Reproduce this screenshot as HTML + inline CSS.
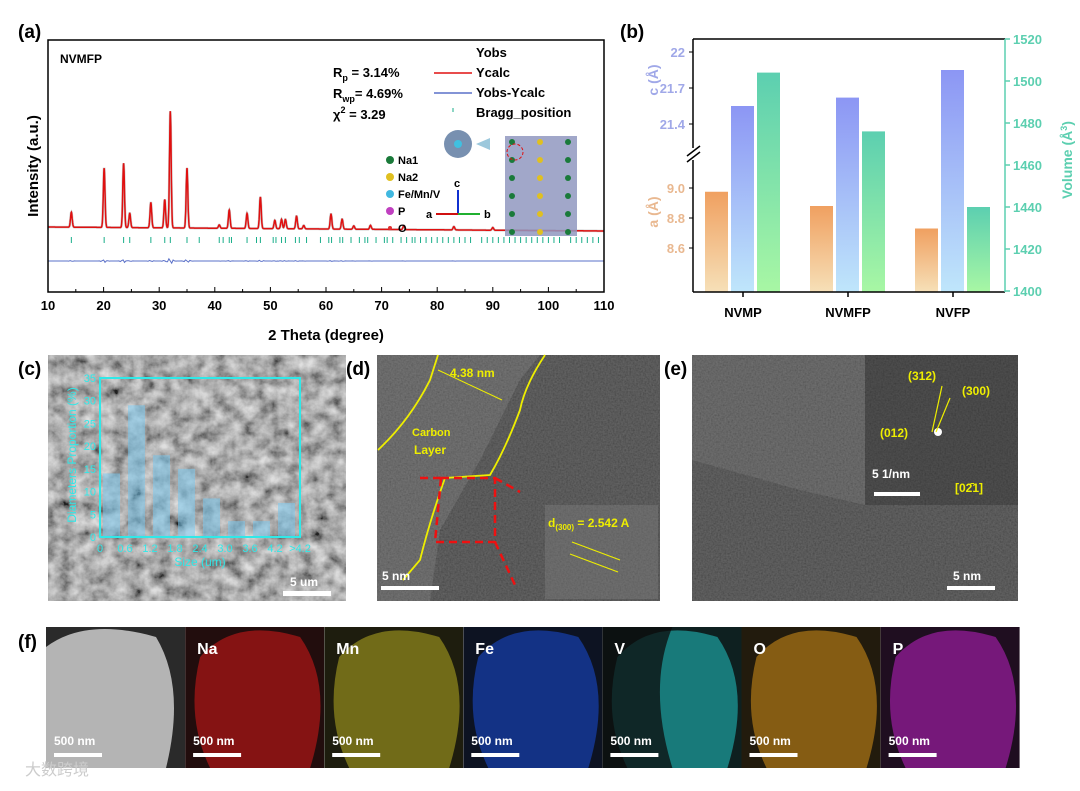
<!DOCTYPE html>
<html><head><meta charset="utf-8"><style>
body{margin:0;background:#fff;width:1080px;height:786px;overflow:hidden;font-family:"Liberation Sans",Arial,sans-serif}
svg text{font-family:"Liberation Sans",Arial,sans-serif}
</style></head><body>
<svg id="fig" width="1080" height="786" viewBox="0 0 1080 786">
<defs>
<filter id="noiseL" x="0" y="0" width="100%" height="100%"><feTurbulence type="fractalNoise" baseFrequency="0.07" numOctaves="4" seed="3"/><feColorMatrix type="saturate" values="0"/><feComponentTransfer><feFuncR type="linear" slope="1.8" intercept="-0.4"/><feFuncG type="linear" slope="1.8" intercept="-0.4"/><feFuncB type="linear" slope="1.8" intercept="-0.4"/><feFuncA type="linear" slope="0" intercept="1"/></feComponentTransfer></filter>
<filter id="noiseF" x="0" y="0" width="100%" height="100%"><feTurbulence type="fractalNoise" baseFrequency="0.6" numOctaves="2" seed="5"/><feColorMatrix type="saturate" values="0"/><feComponentTransfer><feFuncA type="linear" slope="0" intercept="1"/></feComponentTransfer></filter>
<linearGradient id="gA" x1="0" y1="0" x2="0" y2="1"><stop offset="0" stop-color="#f0a060"/><stop offset="1" stop-color="#f6e0b8"/></linearGradient>
<linearGradient id="gC" x1="0" y1="0" x2="0" y2="1"><stop offset="0" stop-color="#8c96f4"/><stop offset="1" stop-color="#bfe6fb"/></linearGradient>
<linearGradient id="gV" x1="0" y1="0" x2="0" y2="1"><stop offset="0" stop-color="#5ccfb0"/><stop offset="1" stop-color="#a8f7a4"/></linearGradient>
</defs>

<text x="18" y="38" font-size="19" font-weight="bold">(a)</text>
<g id="pa"></g>
<text x="620" y="38" font-size="19" font-weight="bold">(b)</text>
<g id="pb"></g>

<text x="18" y="375" font-size="19" font-weight="bold">(c)</text>
<g>
<rect x="48" y="355" width="298" height="246" fill="#888" filter="url(#noiseL)"/>
<rect x="48" y="355" width="298" height="246" fill="#808080" opacity="0.25"/>
</g>
<g id="pc"></g>
<rect x="283" y="591" width="48" height="5" fill="#fff"/>
<text x="290" y="586" font-size="12" fill="#fff" font-weight="bold">5 um</text>

<text x="346" y="375" font-size="19" font-weight="bold">(d)</text>
<g>
<rect x="377" y="355" width="283" height="246" fill="#666" filter="url(#noiseF)"/>
<rect x="377" y="355" width="283" height="246" fill="#333" opacity="0.72"/>
<path d="M377,355 L540,355 L520,380 L480,460 L440,530 L430,601 L377,601Z" fill="#fff" opacity="0.1"/>
<path d="M378,450 Q410,420 430,380 L438,355" fill="none" stroke="#ee0" stroke-width="1.8"/>
<path d="M545,355 Q525,385 520,410 Q505,450 490,475 L445,478 Q430,520 420,560 L403,580" fill="none" stroke="#ee0" stroke-width="1.8"/>
<line x1="438" y1="370" x2="502" y2="400" stroke="#ee0" stroke-width="1"/>
<text x="450" y="377" font-size="12" font-weight="bold" fill="#ee0">4.38 nm</text>
<text x="412" y="436" font-size="11" font-weight="bold" fill="#ee0">Carbon</text>
<text x="414" y="454" font-size="12" font-weight="bold" fill="#ee0">Layer</text>
<path d="M441,478 L420,478 M441,478 L495,478 L495,542 L435,542 L441,478 M495,478 L520,492 M495,542 L515,585" fill="none" stroke="#e11" stroke-width="2.5" stroke-dasharray="8,5"/>
<rect x="545" y="505" width="113" height="94" fill="#888" opacity="0.35"/>
<text x="548" y="527" font-size="12" font-weight="bold" fill="#ee0">d<tspan font-size="8" dy="3">(300)</tspan><tspan dy="-3"> = 2.542 A</tspan></text>
<line x1="572" y1="542" x2="620" y2="560" stroke="#ee0" stroke-width="1.2"/><line x1="570" y1="554" x2="618" y2="572" stroke="#ee0" stroke-width="1.2"/>
<rect x="381" y="586" width="58" height="4" fill="#fff"/>
<text x="382" y="580" font-size="12" font-weight="bold" fill="#fff">5 nm</text>
</g>

<text x="664" y="375" font-size="19" font-weight="bold">(e)</text>
<g>
<rect x="692" y="355" width="326" height="246" fill="#666" filter="url(#noiseF)"/>
<rect x="692" y="355" width="326" height="246" fill="#333" opacity="0.72"/>
<path d="M692,355 L865,355 L865,505 L800,490 L692,460Z" fill="#fff" opacity="0.08"/>
<rect x="865" y="355" width="153" height="150" fill="#222" opacity="0.3"/>
<circle cx="938" cy="432" r="4" fill="#fff"/>
<text x="908" y="380" font-size="12" font-weight="bold" fill="#ee0">(312)</text>
<text x="962" y="395" font-size="12" font-weight="bold" fill="#ee0">(300)</text>
<text x="880" y="437" font-size="12" font-weight="bold" fill="#ee0">(012)</text>
<text x="955" y="492" font-size="12" font-weight="bold" fill="#ee0">[02̄1]</text>
<line x1="932" y1="432" x2="942" y2="386" stroke="#ee0" stroke-width="1.2"/><line x1="936" y1="432" x2="950" y2="398" stroke="#ee0" stroke-width="1.2"/>
<text x="872" y="478" font-size="12" font-weight="bold" fill="#fff">5 1/nm</text>
<rect x="874" y="492" width="46" height="4" fill="#fff"/>
<rect x="947" y="586" width="48" height="4" fill="#fff"/>
<text x="953" y="580" font-size="12" font-weight="bold" fill="#fff">5 nm</text>
</g>

<text x="18" y="648" font-size="19" font-weight="bold">(f)</text>
<g id="pf"></g>
<text x="25" y="775" font-size="16" fill="#ccc">大数跨境</text>
</svg>

<script>
const NS='http://www.w3.org/2000/svg';
function mk(p,t,a){const e=document.createElementNS(NS,t);for(const k in a)e.setAttribute(k,a[k]);p.appendChild(e);return e;}

// ---------- Panel a: XRD ----------
const peakPos=[14.2,20.1,23.6,24.7,28.5,31.0,32.0,35.0,40.8,42.6,45.8,48.2,50.8,52.0,52.7,54.7,56.0,60.9,62.9,65.0,68.0,74.0,83.0,90.0];
const peakHeight=[45,177,193,43,75,85,350,180,10,55,45,95,25,28,28,38,10,45,30,10,12,12,10,8];
const braggPos=[14.2,20.1,23.6,24.7,28.5,31,32,35,37.2,40.8,41.5,42.6,43,45.8,47.5,48.2,50.5,51,52,52.7,54.5,55.2,56.5,59,60.5,61,62.5,63,64.5,66,67,67.5,69,70.5,71,72,73.5,74.5,75.5,76,77,78,79,80,81,82,83,84,85,86,88,89,90,91,92,93,94,95,96,97,98,99,100,101,102,104,105,106,107,108,109];
const xTicks=[10,20,30,40,50,60,70,80,90,100,110];
(function(){
const g=document.getElementById('pa');
const L=48,R=604,T=40,B=292;
const X=v=>L+(v-10)/100*(R-L);
const base=v=>227+(v-10)/100*4;
const Y=h=>h/3;
let d='';
for(let t=10;t<=110;t+=0.04){let y=base(t);for(let i=0;i<peakPos.length;i++){const w=0.15;y-=Y(peakHeight[i])*Math.exp(-((t-peakPos[i])**2)/(2*w*w));}d+=(d?'L':'M')+X(t).toFixed(1)+','+y.toFixed(1);}
const obs=mk(g,'path',{d:d,fill:'none',stroke:'#ccc','stroke-width':2.5});


const calc=mk(g,'path',{d:d,fill:'none',stroke:'#e01010','stroke-width':1.5});


braggPos.forEach(p=>{const b=mk(g,'line',{x1:X(p),x2:X(p),y1:237,y2:243,stroke:'#1aae8a','stroke-width':1});

});
let dd='';for(let t=10;t<=110;t+=0.25){let y=261;for(let i=0;i<peakPos.length;i++){y+=(peakHeight[i]/120)*Math.sin((t-peakPos[i])*8)*Math.exp(-((t-peakPos[i])**2)/0.3);}dd+=(dd?'L':'M')+X(t).toFixed(1)+','+y.toFixed(1);}
const diff=mk(g,'path',{d:dd,fill:'none',stroke:'#5a70c8','stroke-width':1});


const fr=mk(g,'rect',{x:L,y:T,width:R-L,height:B-T,fill:'none',stroke:'#000','stroke-width':1.5});


xTicks.forEach(v=>{mk(g,'line',{x1:X(v),x2:X(v),y1:B,y2:B-5,stroke:'#000'});const t=mk(g,'text',{x:X(v),y:B+18,'font-size':13,'font-weight':'bold','text-anchor':'middle'});t.textContent=v;

});
for(let v=15;v<110;v+=10)mk(g,'line',{x1:X(v),x2:X(v),y1:B,y2:B-3,stroke:'#000'});
const xt=mk(g,'text',{x:326,y:340,'font-size':15,'font-weight':'bold','text-anchor':'middle'});xt.textContent='2 Theta (degree)';


const yt=mk(g,'text',{x:38,y:166,'font-size':15,'font-weight':'bold','text-anchor':'middle',transform:'rotate(-90 38 166)'});yt.textContent='Intensity (a.u.)';


const lab=(x,y,s,txt,c,n)=>{const t=mk(g,'text',{x:x,y:y,'font-size':s,'font-weight':'bold',fill:c||'#000'});t.innerHTML=txt;

};
lab(60,63,12,'NVMFP',0,'sample-label');
lab(333,77,13,'R<tspan font-size="9" dy="4">p</tspan><tspan dy="-4">  = 3.14%</tspan>',0,'rp-value');
lab(333,98,13,'R<tspan font-size="9" dy="4">wp</tspan><tspan dy="-4">= 4.69%</tspan>',0,'rwp-value');
lab(333,119,13,'χ<tspan font-size="9" dy="-6">2</tspan><tspan dy="6">   = 3.29</tspan>',0,'chi2-value');
lab(476,57,13,'Yobs',0,'legend-yobs');
lab(476,77,13,'Ycalc',0,'legend-ycalc');
lab(476,97,13,'Yobs-Ycalc',0,'legend-diff');
lab(476,117,13,'Bragg_position',0,'legend-bragg');
mk(g,'line',{x1:434,x2:472,y1:73,y2:73,stroke:'#e01010','stroke-width':1.5});
mk(g,'line',{x1:434,x2:472,y1:93,y2:93,stroke:'#5a70c8','stroke-width':1.5});
mk(g,'line',{x1:453,x2:453,y1:108,y2:112,stroke:'#1aae8a'});
const sl=[['#1a7a3a','Na1',164],['#e0c020','Na2',181],['#40b8e0','Fe/Mn/V',198],['#c040c0','P',215],['#e03030','O',232]];
sl.forEach(s=>{mk(g,'circle',{cx:390,cy:s[2]-4,r:s[1]=='O'?2:4,fill:s[0]});lab(398,s[2],11,s[1],0,'atom-legend');});
mk(g,'line',{x1:458,x2:458,y1:214,y2:190,stroke:'#1030d0','stroke-width':2});lab(454,187,11,'c',0,'axis-c');
mk(g,'line',{x1:458,x2:436,y1:214,y2:214,stroke:'#d01010','stroke-width':2});lab(426,218,11,'a',0,'axis-a');
mk(g,'line',{x1:458,x2:480,y1:214,y2:214,stroke:'#20b030','stroke-width':2});lab(484,218,11,'b',0,'axis-b');
mk(g,'circle',{cx:458,cy:144,r:14,fill:'#7890b0'});mk(g,'circle',{cx:458,cy:144,r:4,fill:'#40c0e0'});
mk(g,'path',{d:'M476,144 l14,-6 v12z',fill:'#9cc8dc'});
mk(g,'rect',{x:505,y:136,width:72,height:100,fill:'#9098c0',opacity:0.85});
for(let i=0;i<6;i++)for(let j=0;j<3;j++)mk(g,'circle',{cx:512+j*28,cy:142+i*18,r:3,fill:j%2?'#e0c020':'#1a7a3a'});
mk(g,'circle',{cx:515,cy:152,r:8,fill:'none',stroke:'#e01010','stroke-dasharray':'3,2'});
})();

// ---------- Panel b ----------
const groups=['NVMP','NVMFP','NVFP'];
const aVals=[8.975,8.88,8.73];
const cVals=[21.55,21.62,21.85];
const vVals=[1504,1476,1440];
const aTicks=[8.6,8.8,9.0];
const cTicks=[21.4,21.7,22];
const vTicks=[1400,1420,1440,1460,1480,1500,1520];
(function(){
const g=document.getElementById('pb');
const L=693,R=1005,T=39,B=292;
const Ya=v=>188+(9.0-v)*150;
const Yc=v=>52+(22-v)*120;
const Yv=v=>291-(v-1400)*2.1;
const cx=[743,848,953];
groups.forEach((n,i)=>{
 let r=mk(g,'rect',{x:cx[i]-38,y:Ya(aVals[i]),width:23,height:B-Ya(aVals[i]),fill:'url(#gA)'});
 
 
 r=mk(g,'rect',{x:cx[i]-12,y:Yc(cVals[i]),width:23,height:B-Yc(cVals[i]),fill:'url(#gC)'});
 
 
 r=mk(g,'rect',{x:cx[i]+14,y:Yv(vVals[i]),width:23,height:B-Yv(vVals[i]),fill:'url(#gV)'});
 
 
 const t=mk(g,'text',{x:cx[i],y:317,'font-size':13,'font-weight':'bold','text-anchor':'middle'});t.textContent=n;
 
 
 mk(g,'line',{x1:cx[i],x2:cx[i],y1:B,y2:B+5,stroke:'#000','stroke-width':1.5});
});
mk(g,'line',{x1:L,x2:R,y1:T,y2:T,stroke:'#000','stroke-width':1.5});
mk(g,'line',{x1:L,x2:R,y1:B,y2:B,stroke:'#000','stroke-width':1.5});
mk(g,'line',{x1:L,x2:L,y1:T,y2:148,stroke:'#000','stroke-width':1.5});
mk(g,'line',{x1:L,x2:L,y1:160,y2:B,stroke:'#000','stroke-width':1.5});
mk(g,'line',{x1:687,x2:700,y1:156,y2:146,stroke:'#000','stroke-width':1.5});
mk(g,'line',{x1:687,x2:700,y1:162,y2:152,stroke:'#000','stroke-width':1.5});
mk(g,'line',{x1:R,x2:R,y1:T,y2:B,stroke:'#5ccfb0','stroke-width':1.5});
aTicks.forEach(v=>{mk(g,'line',{x1:L,x2:L-4,y1:Ya(v),y2:Ya(v),stroke:'#000'});const t=mk(g,'text',{x:L-8,y:Ya(v)+5,'font-size':13,'font-weight':'bold',fill:'#e9b890','text-anchor':'end'});t.textContent=v.toFixed(1);
 
 });
cTicks.forEach(v=>{mk(g,'line',{x1:L,x2:L-4,y1:Yc(v),y2:Yc(v),stroke:'#000'});const t=mk(g,'text',{x:L-8,y:Yc(v)+5,'font-size':13,'font-weight':'bold',fill:'#a0a8e8','text-anchor':'end'});t.textContent=v;
 
 });
vTicks.forEach(v=>{mk(g,'line',{x1:R,x2:R+5,y1:Yv(v),y2:Yv(v),stroke:'#5ccfb0','stroke-width':1.5});const t=mk(g,'text',{x:R+8,y:Yv(v)+5,'font-size':13,'font-weight':'bold',fill:'#5ccfb0'});t.textContent=v;
 
 });
let t=mk(g,'text',{x:658,y:212,'font-size':14,'font-weight':'bold',fill:'#e9b890','text-anchor':'middle',transform:'rotate(-90 658 212)'});t.textContent='a (Å)';


t=mk(g,'text',{x:658,y:80,'font-size':14,'font-weight':'bold',fill:'#a0a8e8','text-anchor':'middle',transform:'rotate(-90 658 80)'});t.textContent='c (Å)';


t=mk(g,'text',{x:1072,y:160,'font-size':14,'font-weight':'bold',fill:'#5ccfb0','text-anchor':'middle',transform:'rotate(-90 1072 160)'});t.innerHTML='Volume (Å<tspan font-size="9" dy="-5">3</tspan><tspan dy="5">)</tspan>';


})();

// ---------- Panel c histogram ----------
const sizeBins=['0','0.6','1.2','1.8','2.4','3.0','3.6','4.2','>4.2'];
const sizeVals=[14,29,18,15,8.5,3.5,3.5,7.5];
const pctTicks=[0,5,10,15,20,25,30,35];
(function(){
const g=document.getElementById('pc');
const L=100,R=300,T=378,B=537;
const Y=v=>B-(v/35)*(B-T);
const bw=(R-L)/8;
sizeVals.forEach((v,i)=>{const r=mk(g,'rect',{x:L+i*bw+3,y:Y(v),width:bw-8,height:B-Y(v),fill:'#7ac8ee',opacity:0.55});
 
 });
const fr=mk(g,'rect',{x:L,y:T,width:R-L,height:B-T,fill:'none',stroke:'#30e8e8','stroke-width':2});


pctTicks.forEach(v=>{const t=mk(g,'text',{x:L-4,y:Y(v)+4,'font-size':11,fill:'#30e8e8','text-anchor':'end'});t.textContent=v;
 
 });
sizeBins.forEach((s,i)=>{const t=mk(g,'text',{x:L+i*bw,y:B+15,'font-size':11,fill:'#30e8e8','text-anchor':'middle'});t.textContent=s;
 
 });
let t=mk(g,'text',{x:200,y:566,'font-size':12,fill:'#30e8e8','text-anchor':'middle'});t.textContent='Size (um)';


t=mk(g,'text',{x:76,y:455,'font-size':12,fill:'#30e8e8','text-anchor':'middle',transform:'rotate(-90 76 455)'});t.textContent='Diameters Proportion (%)';


})();

// ---------- Panel f ----------
const elems=['','Na','Mn','Fe','V','O','P'];
const elemColors=['#bbb','#c81818','#a8a020','#1848c8','#20b8b8','#c88818','#b020b8'];
(function(){
const g=document.getElementById('pf');
const x0=46,w=139.1,y0=627,h=141;
const defs=document.querySelector('defs');
elems.forEach((e,i)=>{
 const x=x0+i*w;
 const cp=mk(defs,'clipPath',{id:'cp'+i});mk(cp,'rect',{x:x,y:y0,width:w,height:h});
 const tile=mk(g,'g',{'clip-path':'url(#cp'+i+')'});
 
 
 mk(tile,'rect',{x:x,y:y0,width:w,height:h,fill:'#0c0c0c'});
 if(i==0){mk(tile,'rect',{x:x,y:y0,width:w,height:h,fill:'#2a2a2a'});mk(tile,'path',{d:`M${x},${y0+20} Q${x+40},${y0-10} ${x+110},${y0+10} Q${x+140},${y0+60} ${x+120},${y0+141} L${x},${y0+141}Z`,fill:'#b4b4b4'});}
 else{mk(tile,'rect',{x:x,y:y0,width:w,height:h,fill:elemColors[i],opacity:0.12});
  mk(tile,'path',{d:`M${x+15},${y0+30} Q${x+50},${y0-10} ${x+115},${y0+10} Q${x+150},${y0+60} ${x+125},${y0+141} L${x+25},${y0+141} Q${x},${y0+90} ${x+15},${y0+30}Z`,fill:elemColors[i],opacity:0.6});
  if(e=='V')mk(tile,'path',{d:`M${x},${y0} L${x+70},${y0} Q${x+45},${y0+60} ${x+70},${y0+141} L${x},${y0+141}Z`,fill:'#0c0c0c',opacity:0.75});
  const t=mk(tile,'text',{x:x+12,y:y0+27,'font-size':16,'font-weight':'bold',fill:'#fff'});t.textContent=e;}
 const s=mk(tile,'text',{x:x+8,y:y0+118,'font-size':12,'font-weight':'bold',fill:'#fff'});s.textContent='500 nm';
 mk(tile,'rect',{x:x+8,y:y0+126,width:48,height:4,fill:'#fff'});
});
})();
</script>
</body></html>
